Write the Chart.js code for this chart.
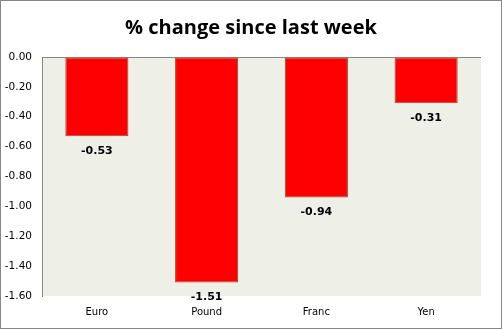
<!DOCTYPE html>
<html>
<head>
<meta charset="utf-8">
<script src="https://cdn.jsdelivr.net/npm/chart.js@4"></script>
<style>
  html, body { margin: 0; padding: 0; background: #fff; }
  #wrap { width: 502px; height: 329px; position: relative; }
</style>
</head>
<body>
<div id="wrap"><canvas id="c" width="502" height="329"></canvas></div>
<script>
// Weekly currency moves
const categories = ['Euro', 'Pound', 'Franc', 'Yen'];
const changes = [-0.53, -1.51, -0.94, -0.31];
const yTicks = [0, -0.2, -0.4, -0.6, -0.8, -1.0, -1.2, -1.4, -1.6];

const plotBg = {
  id: 'plotBg',
  afterLayout(chart) {
    // center the title across the full canvas width
    const t = chart.titleBlock;
    if (t) { t.left = 0; t.right = chart.width; t.width = chart.width; }
  },
  beforeDraw(chart) {
    const { ctx, chartArea: a } = chart;
    ctx.save();
    ctx.fillStyle = '#EEF0E8';
    ctx.fillRect(a.left, a.top, a.right - a.left, a.bottom - a.top);
    ctx.restore();
  },
  afterDraw(chart) {
    const ctx = chart.ctx;
    ctx.save();
    ctx.strokeStyle = '#878787';
    ctx.lineWidth = 1;
    ctx.strokeRect(0.5, 0.5, chart.width - 1, chart.height - 1);
    ctx.restore();
  }
};

const valueLabels = {
  id: 'valueLabels',
  afterDatasetsDraw(chart) {
    const { ctx } = chart;
    const meta = chart.getDatasetMeta(0);
    ctx.save();
    ctx.font = 'bold 11px "DejaVu Sans"';
    ctx.fillStyle = '#000';
    ctx.textAlign = 'center';
    ctx.textBaseline = 'middle';
    meta.data.forEach((bar, i) => {
      ctx.fillText(changes[i].toFixed(2), bar.x, bar.y + 15);
    });
    ctx.restore();
  }
};

new Chart(document.getElementById('c'), {
  type: 'bar',
  data: {
    labels: categories,
    datasets: [{
      data: changes,
      backgroundColor: '#FF0000',
      borderColor: '#9A4A2E',
      borderWidth: 1,
      borderSkipped: false,
      categoryPercentage: 1,
      barPercentage: 0.575
    }]
  },
  options: {
    responsive: false,
    animation: false,
    devicePixelRatio: 1,
    layout: { padding: { left: 0, right: 21, top: 0, bottom: 0 } },
    plugins: {
      legend: { display: false },
      tooltip: { enabled: false },
      title: {
        display: true,
        text: '% change since last week',
        color: '#000',
        font: { family: '"Open Sans"', size: 20, weight: 'bold', lineHeight: 1.2 },
        padding: { top: 16, bottom: 17 }
      }
    },
    scales: {
      x: {
        grid: { display: false, drawTicks: false },
        border: { display: false },
        ticks: { color: '#000', font: { family: '"DejaVu Sans"', size: 10 }, padding: 10 },
        afterFit(s) { s.height = 33; }
      },
      y: {
        min: -1.6,
        max: 0,
        afterBuildTicks(s) { s.ticks = yTicks.map(v => ({ value: v })); },
        grid: {
          drawTicks: false,
          color: c => (c.tick && c.tick.value === 0 ? '#878787' : 'rgba(0,0,0,0)')
        },
        border: { display: true, color: '#878787' },
        ticks: {
          color: '#000',
          font: { family: '"DejaVu Sans"', size: 10.5 },
          padding: 10,
          callback: v => Number(v).toFixed(2)
        },
        afterFit(s) { s.width = 42; }
      }
    }
  },
  plugins: [plotBg, valueLabels]
});
</script>
</body>
</html>
